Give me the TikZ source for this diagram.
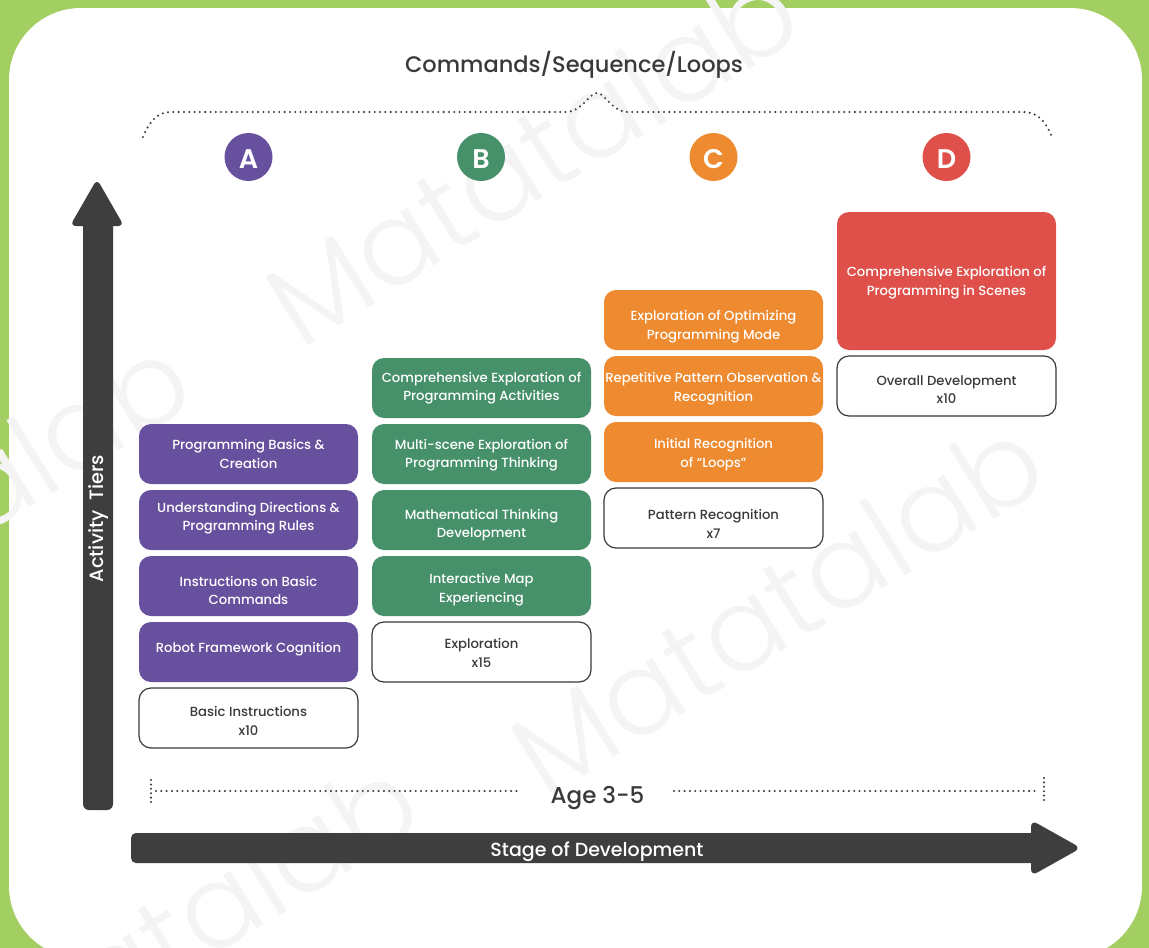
\documentclass[tikz,border=0pt]{standalone}
\usepackage{fontspec}
\setmainfont{Poppins}[UprightFont=* Medium, BoldFont=* SemiBold]
\newfontfamily\markfont{Poppins}[UprightFont=* Light]
\definecolor{framegreen}{HTML}{A3CF62}
\definecolor{tierpurple}{HTML}{67509E}
\definecolor{tiergreen}{HTML}{46906A}
\definecolor{tierorange}{HTML}{EE8A2F}
\definecolor{tierred}{HTML}{E0504B}
\definecolor{axisgray}{HTML}{3E3E3E}
\definecolor{inkgray}{HTML}{3A3A3A}
\definecolor{markgray}{HTML}{F4F4F4}

% box: name, style, left x, top y, height, text shift, text
\newcommand{\tierbox}[7]{%
  \node[#2, minimum height=#5pt, anchor=north west] (#1) at (#3,#4) {};
  \node[#2text] (#1txt) at ([yshift={#6pt-9.25pt}]#1.center) {#7};%
}

\begin{document}
\begin{tikzpicture}[x=1pt,y=-1pt,
  every node/.style={inner sep=0pt, outer sep=0pt},
  tier/.style={rounded corners=12pt, minimum width=219pt},
  purplebox/.style={tier, fill=tierpurple},
  greenbox/.style={tier, fill=tiergreen},
  orangebox/.style={tier, fill=tierorange},
  redbox/.style={tier, fill=tierred},
  whitebox/.style={tier, fill=white, draw=inkgray, line width=1.2pt},
  boxtext/.style={text=white, font=\fontsize{13.2}{18.5}\selectfont, align=center, text height=11pt, text depth=3pt},
  purpleboxtext/.style={boxtext},
  greenboxtext/.style={boxtext},
  orangeboxtext/.style={boxtext},
  redboxtext/.style={boxtext},
  whiteboxtext/.style={boxtext, text=inkgray},
  badge/.style={circle, minimum size=48pt},
  badgeletter/.style={text=white, font=\fontsize{27}{27}\selectfont\bfseries, anchor=base},
  dotline/.style={draw=axisgray, line width=2.3pt, line cap=round, dash pattern=on 0pt off 5.3pt},
  dotcap/.style={draw=axisgray, line width=2.3pt, line cap=round, dash pattern=on 0pt off 4.4pt},
  watermark/.style={text=markgray, font=\markfont\fontsize{116}{116}\selectfont, rotate=32, anchor=base west}
]
\useasboundingbox (0,0) rectangle (1149,948);

% frame and white panel
\fill[framegreen] (0,0) rectangle (1149,948);
\fill[white, rounded corners=72pt] (9,8) rectangle (1142,958);

% watermark lettering
\node[watermark] (wm1) at (300,350) {Matatalab};
\node[watermark] (wm2) at (545,800) {Matatalab};
\node[watermark] (wm3) at (-308,718) {Matatalab};
\node[watermark] (wm4) at (-80,1140) {Matatalab};

% title and brace
\node[text=inkgray, font=\fontsize{22.5}{22.5}\selectfont, anchor=base] (title) at (574,72) {Commands/Sequence/Loops};
\draw[dotline] (143,137) .. controls (150,120) and (158,112) .. (172,112)
  -- (566,112) .. controls (582,112) and (589,93) .. (597,93)
  .. controls (605,93) and (612,112) .. (628,112)
  -- (1023,112) .. controls (1037,112) and (1045,120) .. (1052,137);

% stage badges
\node[badge, fill=tierpurple] (ba) at (248.5,157) {};
\node[badge, fill=tiergreen]  (bb) at (481,157) {};
\node[badge, fill=tierorange] (bc) at (713.5,157) {};
\node[badge, fill=tierred]    (bd) at (946.5,157) {};
\node[badgeletter] (la) at ([yshift=-11pt]ba.center) {A};
\node[badgeletter] (lb) at ([yshift=-11pt]bb.center) {B};
\node[badgeletter] (lc) at ([yshift=-11pt]bc.center) {C};
\node[badgeletter] (ld) at ([yshift=-11pt]bd.center) {D};

% vertical axis arrow
\fill[axisgray, rounded corners=6pt] (83,215) rectangle (113,810);
\fill[axisgray, rounded corners=6pt] (70,226) -- (97,179) -- (124,226) -- cycle;
\node[text=white, font=\fontsize{19.3}{19.3}\selectfont, rotate=90, anchor=base] (tiers) at (103.5,518.5) {Activity\ \ Tiers};

% horizontal axis arrow
\fill[axisgray, rounded corners=5pt] (131,833) rectangle (1045,863);
\fill[axisgray, rounded corners=7pt] (1031,820) -- (1081,848) -- (1031,876) -- cycle;
\node[text=white, font=\fontsize{19}{19}\selectfont, anchor=base] (stage) at (597,856) {Stage of Development};

% age range marker
\node[text=inkgray, font=\fontsize{23}{23}\selectfont, anchor=base] (age) at (597.5,803) {Age 3-5};
\draw[dotline] (156,791) -- (520,791);
\draw[dotline] (674,791) -- (1038,791);
\draw[dotcap] (151,780) -- (151,802);
\draw[dotcap] (1044,778) -- (1044,802);

% column A
\tierbox{a1}{purplebox}{139}{424}{60}{-1}{Programming Basics \&\\Creation}
\tierbox{a2}{purplebox}{139}{490}{60}{2.5}{Understanding Directions \&\\Programming Rules}
\tierbox{a3}{purplebox}{139}{556}{60}{-5.5}{Instructions on Basic\\Commands}
\node[purplebox, minimum height=60pt, anchor=north west] (a4) at (139,622) {};
\node[boxtext, text height=10pt, text depth=0pt, anchor=base] (a4txt) at (248.5,652) {Robot Framework Cognition};
\tierbox{a5}{whitebox}{139}{688}{60}{-4}{Basic Instructions\\x10}

% column B
\tierbox{b1}{greenbox}{372}{358}{60}{0.5}{Comprehensive Exploration of\\Programming Activities}
\tierbox{b2}{greenbox}{372}{424}{60}{-0.7}{Multi-scene Exploration of\\Programming Thinking}
\tierbox{b3}{greenbox}{372}{490}{60}{-4.5}{Mathematical Thinking\\Development}
\tierbox{b4}{greenbox}{372}{556}{60}{-3}{Interactive Map\\Experiencing}
\tierbox{b5}{whitebox}{372}{622}{60}{-2}{Exploration\\x15}

% column C
\tierbox{c1}{orangebox}{604}{290}{60}{-5.8}{Exploration of Optimizing\\Programming Mode}
\tierbox{c2}{orangebox}{604}{356}{60}{-1.8}{Repetitive Pattern Observation \&\\Recognition}
\tierbox{c3}{orangebox}{604}{422}{60}{-2.2}{Initial Recognition\\of “Loops”}
\tierbox{c4}{whitebox}{604}{488}{60}{-7}{Pattern Recognition\\x7}

% column D
\tierbox{d1}{redbox}{837}{212}{138}{-1}{Comprehensive Exploration of\\Programming in Scenes}
\tierbox{d2}{whitebox}{837}{356}{60}{-4.5}{Overall Development\\x10}
\end{tikzpicture}
\end{document}
